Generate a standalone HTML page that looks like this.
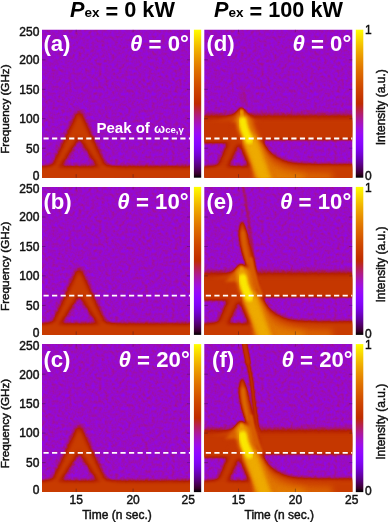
<!DOCTYPE html>
<html><head><meta charset="utf-8"><title>Spectrogram figure</title>
<style>
html,body{margin:0;padding:0;background:#fff;}
svg{display:block;font-family:"Liberation Sans",sans-serif;}
.tk{font-size:12px;fill:#111;stroke:#111;stroke-width:0.45px;}
.al{font-size:12px;fill:#111;stroke:#111;stroke-width:0.45px;}
.xl{font-size:12px;fill:#111;stroke:#111;stroke-width:0.45px;}
.pl{font-size:22.2px;font-weight:bold;fill:#fff;}
.pk{font-size:15px;font-weight:bold;fill:#fff;}
.tt{font-size:21.7px;font-weight:bold;fill:#000;}
</style></head><body>
<svg width="388" height="522" viewBox="0 0 388 522">

<defs>
<filter id="pal" x="0" y="0" width="148.0" height="148.0" color-interpolation-filters="sRGB" filterUnits="userSpaceOnUse">
  <feComponentTransfer>
    <feFuncR type="table" tableValues="0.0000 0.1250 0.1768 0.2165 0.2500 0.2795 0.3062 0.3307 0.3536 0.3750 0.3953 0.4146 0.4330 0.4507 0.4677 0.4841 0.5000 0.5154 0.5303 0.5449 0.5590 0.5728 0.5863 0.5995 0.6124 0.6250 0.6374 0.6495 0.6614 0.6731 0.6847 0.6960 0.7071 0.7181 0.7289 0.7395 0.7500 0.7603 0.7706 0.7806 0.7906 0.8004 0.8101 0.8197 0.8292 0.8385 0.8478 0.8570 0.8660 0.8750 0.8839 0.8927 0.9014 0.9100 0.9186 0.9270 0.9354 0.9437 0.9520 0.9601 0.9682 0.9763 0.9843 0.9922 1.0000"/>
    <feFuncG type="table" tableValues="0.0000 0.0000 0.0000 0.0001 0.0002 0.0005 0.0008 0.0013 0.0020 0.0028 0.0038 0.0051 0.0066 0.0084 0.0105 0.0129 0.0156 0.0187 0.0222 0.0262 0.0305 0.0353 0.0406 0.0464 0.0527 0.0596 0.0670 0.0751 0.0837 0.0930 0.1030 0.1136 0.1250 0.1371 0.1499 0.1636 0.1780 0.1932 0.2093 0.2263 0.2441 0.2629 0.2826 0.3033 0.3250 0.3476 0.3713 0.3961 0.4219 0.4488 0.4768 0.5060 0.5364 0.5679 0.6007 0.6347 0.6699 0.7065 0.7443 0.7835 0.8240 0.8659 0.9091 0.9539 1.0000"/>
    <feFuncB type="table" tableValues="0.0000 0.0980 0.1951 0.2903 0.3827 0.4714 0.5556 0.6344 0.7071 0.7730 0.8315 0.8819 0.9239 0.9569 0.9808 0.9952 1.0000 0.9952 0.9808 0.9569 0.9239 0.8819 0.8315 0.7730 0.7071 0.6344 0.5556 0.4714 0.3827 0.2903 0.1951 0.0980 0.0000 0.0000 0.0000 0.0000 0.0000 0.0000 0.0000 0.0000 0.0000 0.0000 0.0000 0.0000 0.0000 0.0000 0.0000 0.0000 0.0000 0.0000 0.0000 0.0000 0.0000 0.0000 0.0000 0.0000 0.0000 0.0000 0.0000 0.0000 0.0000 0.0000 0.0000 0.0000 0.0000"/>
  </feComponentTransfer>
</filter>
<filter id="nz" x="0" y="0" width="148.0" height="148.0" filterUnits="userSpaceOnUse" color-interpolation-filters="sRGB">
  <feTurbulence type="fractalNoise" baseFrequency="0.3" numOctaves="2" seed="7" result="n"/>
  <feColorMatrix in="n" type="matrix" values="0.09 0.09 0 0 0.268  0.09 0.09 0 0 0.268  0.09 0.09 0 0 0.268  0 0 0 0 1"/>
</filter>
<filter id="b1" x="-50%" y="-50%" width="200%" height="200%" color-interpolation-filters="sRGB"><feGaussianBlur stdDeviation="1"/></filter>
<filter id="b15" x="-50%" y="-50%" width="200%" height="200%" color-interpolation-filters="sRGB"><feGaussianBlur stdDeviation="1.5"/></filter>
<filter id="b2" x="-50%" y="-50%" width="200%" height="200%" color-interpolation-filters="sRGB"><feGaussianBlur stdDeviation="2"/></filter>
<filter id="b25" x="-50%" y="-50%" width="200%" height="200%" color-interpolation-filters="sRGB"><feGaussianBlur stdDeviation="2.5"/></filter>
<filter id="b3" x="-50%" y="-50%" width="200%" height="200%" color-interpolation-filters="sRGB"><feGaussianBlur stdDeviation="3"/></filter>
<filter id="b5" x="-50%" y="-50%" width="200%" height="200%" color-interpolation-filters="sRGB"><feGaussianBlur stdDeviation="5"/></filter>
<clipPath id="pc"><rect x="0" y="0" width="148.0" height="148.0"/></clipPath>
<linearGradient id="cb" x1="0" y1="0" x2="0" y2="1">
<stop offset="0.000" stop-color="rgb(255,255,0)"/><stop offset="0.025" stop-color="rgb(252,239,0)"/><stop offset="0.050" stop-color="rgb(250,224,0)"/><stop offset="0.075" stop-color="rgb(247,209,0)"/><stop offset="0.100" stop-color="rgb(244,195,0)"/><stop offset="0.125" stop-color="rgb(241,181,0)"/><stop offset="0.150" stop-color="rgb(238,168,0)"/><stop offset="0.175" stop-color="rgb(235,156,0)"/><stop offset="0.200" stop-color="rgb(232,144,0)"/><stop offset="0.225" stop-color="rgb(229,133,0)"/><stop offset="0.250" stop-color="rgb(226,122,0)"/><stop offset="0.275" stop-color="rgb(222,112,0)"/><stop offset="0.300" stop-color="rgb(219,103,0)"/><stop offset="0.325" stop-color="rgb(216,94,0)"/><stop offset="0.350" stop-color="rgb(212,85,0)"/><stop offset="0.375" stop-color="rgb(209,77,0)"/><stop offset="0.400" stop-color="rgb(205,69,0)"/><stop offset="0.425" stop-color="rgb(202,62,0)"/><stop offset="0.450" stop-color="rgb(198,56,0)"/><stop offset="0.475" stop-color="rgb(194,49,0)"/><stop offset="0.500" stop-color="rgb(190,44,0)"/><stop offset="0.525" stop-color="rgb(186,38,40)"/><stop offset="0.550" stop-color="rgb(182,33,79)"/><stop offset="0.575" stop-color="rgb(177,29,116)"/><stop offset="0.600" stop-color="rgb(173,25,150)"/><stop offset="0.625" stop-color="rgb(168,21,180)"/><stop offset="0.650" stop-color="rgb(163,18,206)"/><stop offset="0.675" stop-color="rgb(158,15,227)"/><stop offset="0.700" stop-color="rgb(153,12,243)"/><stop offset="0.725" stop-color="rgb(147,9,252)"/><stop offset="0.750" stop-color="rgb(141,7,255)"/><stop offset="0.775" stop-color="rgb(135,6,252)"/><stop offset="0.800" stop-color="rgb(129,4,243)"/><stop offset="0.825" stop-color="rgb(122,3,227)"/><stop offset="0.850" stop-color="rgb(114,2,206)"/><stop offset="0.875" stop-color="rgb(105,1,180)"/><stop offset="0.900" stop-color="rgb(96,1,150)"/><stop offset="0.925" stop-color="rgb(85,0,116)"/><stop offset="0.950" stop-color="rgb(71,0,79)"/><stop offset="0.975" stop-color="rgb(53,0,40)"/><stop offset="1.000" stop-color="rgb(0,0,0)"/></linearGradient>
</defs>
<rect width="388" height="522" fill="#fff"/>
<g transform="translate(42.0,29.7)">
<g id="LP">
<g filter="url(#pal)"><g clip-path="url(#pc)">
<rect x="0" y="0" width="148.0" height="148.0" fill="rgb(91,91,91)" filter="url(#nz)"/>
<path d="M35.4 82.3 L38.6 82.3 L62.4 134 Q65.5 139.6 75 140.2 L75 150 L-1 150 L-1 140.2 Q8.5 139.6 11.6 134 Z M37.1 107.8 L15.4 142 L58.8 142 Z" fill-rule="evenodd" fill="rgb(159,159,159)" filter="url(#b25)"/>
<rect x="-10" y="136.8" width="168.0" height="22" fill="rgb(157,157,157)" filter="url(#b2)"/>
</g></g>
</g>
</g>
<g transform="translate(204.3,29.7)"><g filter="url(#pal)"><g clip-path="url(#pc)"><rect x="0" y="0" width="148.0" height="148.0" fill="rgb(91,91,91)" filter="url(#nz)"/><rect x="-10" y="86" width="168.0" height="20" fill="rgb(153,153,153)" filter="url(#b3)"/><path d="M-10 91 L160 91 L160 110 L56 110 L40 113.3 L-10 113.3 Z" fill="rgb(153,153,153)" filter="url(#b15)"/><path d="M4 92 C18 90 30 88 36.8 78 C40 84 46 90 58 92 Z" fill="rgb(163,163,163)" filter="url(#b15)"/><path d="M35.6 83.3 L38.4 83.3 L61.4 134 Q64.5 139.6 74 140.2 L74 146 L0 146 L0 140.2 Q11.5 139.6 15 133 Z M34.6 113.5 L22.0 141 L46.6 141 Z" fill-rule="evenodd" fill="rgb(154,154,154)" filter="url(#b2)"/><rect x="-10" y="136.8" width="168.0" height="22" fill="rgb(157,157,157)" filter="url(#b2)"/><path d="M55 107 C59 118.5 66 126.5 82 132 C90 134.3 100 135.2 160 135.2 L160 160 L50 160 Z" fill="rgb(158,158,158)" filter="url(#b2)"/><path d="M54 110 C59 123 69 132 84 137.5 C95 141 108 142 128 142 L128 160 L50 160 Z" fill="rgb(184,184,184)" filter="url(#b3)"/><path d="M52 112 C57 126 66 136 78 141 C85 143 92 144 100 144 L100 160 L50 160 Z" fill="rgb(199,199,199)" filter="url(#b3)"/><path d="M36.8 55 L41.6 77" fill="none" stroke="rgb(112,112,112)" stroke-width="1.2" filter="url(#b1)"/><path d="M39.2 60 L43.4 79" fill="none" stroke="rgb(112,112,112)" stroke-width="1.2" filter="url(#b1)"/><path d="M35.4 63 L38.6 77" fill="none" stroke="rgb(112,112,112)" stroke-width="1.2" filter="url(#b1)"/><path d="M26 93 C31 89 33.5 80 37.4 78.6 C41.5 80 44 89 49 93 Z" fill="rgb(178,178,178)" filter="url(#b15)"/><path d="M38.9 95 C38.2 93 40.3 101.5 44.6 109 C47.5 115 50 122 52 127 C54 132.5 56.5 139.5 60.5 150" transform="translate(2.2,0)" fill="none" stroke="rgb(194,194,194)" stroke-width="16.5" stroke-linecap="round" filter="url(#b2)"/><path d="M46 112 C48.5 118 50.5 123 52 127 C54 132.5 57 140.5 61.5 152" fill="none" stroke="rgb(217,217,217)" stroke-width="14" stroke-linecap="round" filter="url(#b2)"/><path d="M37.9 90 C38.2 93 40.3 101.5 44.6 109 C47.5 115 50 122 52 127 C54 132.5 56.5 139.5 60.5 150" fill="none" stroke="rgb(223,223,223)" stroke-width="9.5" stroke-linecap="round" filter="url(#b2)"/><path d="M37.2 81.5 L38.5 95" fill="none" stroke="rgb(217,217,217)" stroke-width="3.5" stroke-linecap="round" filter="url(#b1)"/><path d="M38.4 91 C39 97 41 103 45 110.5" fill="none" stroke="rgb(247,247,247)" stroke-width="7.5" stroke-linecap="round" filter="url(#b15)"/></g></g></g>
<rect x="193.9" y="29.7" width="7.3" height="148.0" fill="url(#cb)"/>
<rect x="355.8" y="29.7" width="7.5" height="148.0" fill="url(#cb)"/>
<line x1="43.5" x2="190.0" y1="138.5" y2="138.5" stroke="#fff" stroke-width="1.8" stroke-dasharray="5.2 3.35"/>
<line x1="205.8" x2="352.3" y1="138.5" y2="138.5" stroke="#fff" stroke-width="1.8" stroke-dasharray="5.2 3.35"/>
<line x1="42.0" x2="45.5" y1="148.2" y2="148.2" stroke="#201030" stroke-opacity="0.6" stroke-width="0.6"/>
<line x1="190.0" x2="187.0" y1="148.2" y2="148.2" stroke="#201030" stroke-opacity="0.5" stroke-width="0.6"/>
<line x1="42.0" x2="45.5" y1="118.7" y2="118.7" stroke="#201030" stroke-opacity="0.6" stroke-width="0.6"/>
<line x1="190.0" x2="187.0" y1="118.7" y2="118.7" stroke="#201030" stroke-opacity="0.5" stroke-width="0.6"/>
<line x1="42.0" x2="45.5" y1="89.3" y2="89.3" stroke="#201030" stroke-opacity="0.6" stroke-width="0.6"/>
<line x1="190.0" x2="187.0" y1="89.3" y2="89.3" stroke="#201030" stroke-opacity="0.5" stroke-width="0.6"/>
<line x1="42.0" x2="45.5" y1="59.8" y2="59.8" stroke="#201030" stroke-opacity="0.6" stroke-width="0.6"/>
<line x1="190.0" x2="187.0" y1="59.8" y2="59.8" stroke="#201030" stroke-opacity="0.5" stroke-width="0.6"/>
<line x1="76.2" x2="76.2" y1="177.7" y2="174.2" stroke="#201030" stroke-opacity="0.6" stroke-width="0.6"/>
<line x1="76.2" x2="76.2" y1="29.7" y2="32.2" stroke="#201030" stroke-opacity="0.4" stroke-width="0.6"/>
<line x1="133.1" x2="133.1" y1="177.7" y2="174.2" stroke="#201030" stroke-opacity="0.6" stroke-width="0.6"/>
<line x1="133.1" x2="133.1" y1="29.7" y2="32.2" stroke="#201030" stroke-opacity="0.4" stroke-width="0.6"/>
<line x1="204.3" x2="207.8" y1="148.2" y2="148.2" stroke="#201030" stroke-opacity="0.6" stroke-width="0.6"/>
<line x1="352.3" x2="349.3" y1="148.2" y2="148.2" stroke="#201030" stroke-opacity="0.5" stroke-width="0.6"/>
<line x1="204.3" x2="207.8" y1="118.7" y2="118.7" stroke="#201030" stroke-opacity="0.6" stroke-width="0.6"/>
<line x1="352.3" x2="349.3" y1="118.7" y2="118.7" stroke="#201030" stroke-opacity="0.5" stroke-width="0.6"/>
<line x1="204.3" x2="207.8" y1="89.3" y2="89.3" stroke="#201030" stroke-opacity="0.6" stroke-width="0.6"/>
<line x1="352.3" x2="349.3" y1="89.3" y2="89.3" stroke="#201030" stroke-opacity="0.5" stroke-width="0.6"/>
<line x1="204.3" x2="207.8" y1="59.8" y2="59.8" stroke="#201030" stroke-opacity="0.6" stroke-width="0.6"/>
<line x1="352.3" x2="349.3" y1="59.8" y2="59.8" stroke="#201030" stroke-opacity="0.5" stroke-width="0.6"/>
<line x1="238.5" x2="238.5" y1="177.7" y2="174.2" stroke="#201030" stroke-opacity="0.6" stroke-width="0.6"/>
<line x1="238.5" x2="238.5" y1="29.7" y2="32.2" stroke="#201030" stroke-opacity="0.4" stroke-width="0.6"/>
<line x1="295.4" x2="295.4" y1="177.7" y2="174.2" stroke="#201030" stroke-opacity="0.6" stroke-width="0.6"/>
<line x1="295.4" x2="295.4" y1="29.7" y2="32.2" stroke="#201030" stroke-opacity="0.4" stroke-width="0.6"/>
<text x="39.4" y="179.6" text-anchor="end" class="tk">0</text>
<text x="39.4" y="152.5" text-anchor="end" class="tk">50</text>
<text x="39.4" y="123.0" text-anchor="end" class="tk">100</text>
<text x="39.4" y="93.6" text-anchor="end" class="tk">150</text>
<text x="39.4" y="64.1" text-anchor="end" class="tk">200</text>
<text x="39.4" y="35.7" text-anchor="end" class="tk">250</text>
<text transform="translate(8.7,109.1) rotate(-90)" text-anchor="middle" class="al" style="font-size:11.65px">Frequency (GHz)</text>
<text x="365" y="34.0" class="tk">1</text>
<text x="365" y="179.6" class="tk">0</text>
<text transform="translate(384.9,107.3) rotate(-90)" text-anchor="middle" class="al">Intensity (a.u.)</text>
<text x="43.4" y="51.0" class="pl">(a)</text>
<text x="206.4" y="51.0" class="pl">(d)</text>
<text x="188.9" y="51.0" text-anchor="end" class="pl"><tspan font-style="italic">θ</tspan> <tspan dy="1">=</tspan><tspan dy="-1"> 0°</tspan></text>
<text x="351.3" y="51.0" text-anchor="end" class="pl"><tspan font-style="italic">θ</tspan> <tspan dy="1">=</tspan><tspan dy="-1"> 0°</tspan></text>
<g transform="translate(42.0,186.9)"><use href="#LP"/></g>
<g transform="translate(204.3,186.9)"><g filter="url(#pal)"><g clip-path="url(#pc)"><rect x="0" y="0" width="148.0" height="148.0" fill="rgb(91,91,91)" filter="url(#nz)"/><rect x="-10" y="86" width="168.0" height="20" fill="rgb(153,153,153)" filter="url(#b3)"/><path d="M-10 91 L160 91 L160 110 L56 110 L40 113.3 L-10 113.3 Z" fill="rgb(153,153,153)" filter="url(#b15)"/><path d="M4 92 C18 90 30 88 36.8 78 C40 84 46 90 58 92 Z" fill="rgb(163,163,163)" filter="url(#b15)"/><path d="M35.6 83.3 L38.4 83.3 L61.4 134 Q64.5 139.6 74 140.2 L74 146 L0 146 L0 140.2 Q11.5 139.6 15 133 Z M34.6 113.5 L22.0 141 L46.6 141 Z" fill-rule="evenodd" fill="rgb(154,154,154)" filter="url(#b2)"/><rect x="-10" y="136.8" width="168.0" height="22" fill="rgb(157,157,157)" filter="url(#b2)"/><path d="M55 107 C59 118.5 66 126.5 82 132 C90 134.3 100 135.2 160 135.2 L160 160 L50 160 Z" fill="rgb(158,158,158)" filter="url(#b2)"/><path d="M54 110 C59 123 69 132 84 137.5 C95 141 108 142 128 142 L128 160 L50 160 Z" fill="rgb(184,184,184)" filter="url(#b3)"/><path d="M52 112 C57 126 66 136 78 141 C85 143 92 144 100 144 L100 160 L50 160 Z" fill="rgb(199,199,199)" filter="url(#b3)"/><path d="M38.8 -2 L44.2 32 L48.1 62 L50.8 80 L54 100" fill="none" stroke="rgb(135,135,135)" stroke-width="1.4" filter="url(#b1)"/><path d="M37.8 34 C35.8 38 34.6 43 34.8 48 C34.9 51 35.2 53 35.6 55 C36.3 58.5 37 62 38 65 L41.2 74 L43.7 84.3 L46.6 92 L50 101 L53.6 101 L52 92 L50.5 84.3 L49 74 L46.5 63 L44 52 C43 48 42 44 41 41 C40 38 39 36 37.8 34 Z" fill="rgb(168,168,168)" filter="url(#b15)"/><path d="M38.8 45 C38.8 54 40.5 63 44 76" fill="none" stroke="rgb(186,186,186)" stroke-width="3.5" stroke-linecap="round" filter="url(#b15)"/><path d="M45.2 72 C47 82 49 91 51.6 100" fill="none" stroke="rgb(178,178,178)" stroke-width="3" stroke-linecap="round" filter="url(#b15)"/><path d="M20 95 C27 90 31 82 36.2 77.5 C40 78 45 86 50 95 Z" fill="rgb(184,184,184)" filter="url(#b15)"/><path d="M38.6 88 C38.2 93 40.3 101.5 44.6 109 C47.5 115 50 122 52 127 C54 132.5 56.5 139.5 60.5 150" transform="translate(2.2,0)" fill="none" stroke="rgb(194,194,194)" stroke-width="16.5" stroke-linecap="round" filter="url(#b2)"/><path d="M46.6 72 C48 80 50 89 52.6 97 C53.6 100 55 104 56.5 107" fill="none" stroke="rgb(182,182,182)" stroke-width="3.4" stroke-linecap="round" filter="url(#b1)"/><path d="M46 112 C48.5 118 50.5 123 52 127 C54 132.5 57 140.5 61.5 152" fill="none" stroke="rgb(217,217,217)" stroke-width="14" stroke-linecap="round" filter="url(#b2)"/><path d="M37.6 86 C38.2 93 40.3 101.5 44.6 109 C47.5 115 50 122 52 127 C54 132.5 56.5 139.5 60.5 150" fill="none" stroke="rgb(223,223,223)" stroke-width="9.5" stroke-linecap="round" filter="url(#b2)"/><path d="M37.2 81.5 L38.5 95" fill="none" stroke="rgb(217,217,217)" stroke-width="3.5" stroke-linecap="round" filter="url(#b1)"/><path d="M38.4 91 C39 97 41 103 45 110.5" fill="none" stroke="rgb(247,247,247)" stroke-width="8.3" stroke-linecap="round" filter="url(#b15)"/></g></g></g>
<rect x="193.9" y="186.9" width="7.3" height="148.0" fill="url(#cb)"/>
<rect x="355.8" y="186.9" width="7.5" height="148.0" fill="url(#cb)"/>
<line x1="43.5" x2="190.0" y1="295.7" y2="295.7" stroke="#fff" stroke-width="1.8" stroke-dasharray="5.2 3.35"/>
<line x1="205.8" x2="352.3" y1="295.7" y2="295.7" stroke="#fff" stroke-width="1.8" stroke-dasharray="5.2 3.35"/>
<line x1="42.0" x2="45.5" y1="305.4" y2="305.4" stroke="#201030" stroke-opacity="0.6" stroke-width="0.6"/>
<line x1="190.0" x2="187.0" y1="305.4" y2="305.4" stroke="#201030" stroke-opacity="0.5" stroke-width="0.6"/>
<line x1="42.0" x2="45.5" y1="275.9" y2="275.9" stroke="#201030" stroke-opacity="0.6" stroke-width="0.6"/>
<line x1="190.0" x2="187.0" y1="275.9" y2="275.9" stroke="#201030" stroke-opacity="0.5" stroke-width="0.6"/>
<line x1="42.0" x2="45.5" y1="246.5" y2="246.5" stroke="#201030" stroke-opacity="0.6" stroke-width="0.6"/>
<line x1="190.0" x2="187.0" y1="246.5" y2="246.5" stroke="#201030" stroke-opacity="0.5" stroke-width="0.6"/>
<line x1="42.0" x2="45.5" y1="217.0" y2="217.0" stroke="#201030" stroke-opacity="0.6" stroke-width="0.6"/>
<line x1="190.0" x2="187.0" y1="217.0" y2="217.0" stroke="#201030" stroke-opacity="0.5" stroke-width="0.6"/>
<line x1="76.2" x2="76.2" y1="334.9" y2="331.4" stroke="#201030" stroke-opacity="0.6" stroke-width="0.6"/>
<line x1="76.2" x2="76.2" y1="186.9" y2="189.4" stroke="#201030" stroke-opacity="0.4" stroke-width="0.6"/>
<line x1="133.1" x2="133.1" y1="334.9" y2="331.4" stroke="#201030" stroke-opacity="0.6" stroke-width="0.6"/>
<line x1="133.1" x2="133.1" y1="186.9" y2="189.4" stroke="#201030" stroke-opacity="0.4" stroke-width="0.6"/>
<line x1="204.3" x2="207.8" y1="305.4" y2="305.4" stroke="#201030" stroke-opacity="0.6" stroke-width="0.6"/>
<line x1="352.3" x2="349.3" y1="305.4" y2="305.4" stroke="#201030" stroke-opacity="0.5" stroke-width="0.6"/>
<line x1="204.3" x2="207.8" y1="275.9" y2="275.9" stroke="#201030" stroke-opacity="0.6" stroke-width="0.6"/>
<line x1="352.3" x2="349.3" y1="275.9" y2="275.9" stroke="#201030" stroke-opacity="0.5" stroke-width="0.6"/>
<line x1="204.3" x2="207.8" y1="246.5" y2="246.5" stroke="#201030" stroke-opacity="0.6" stroke-width="0.6"/>
<line x1="352.3" x2="349.3" y1="246.5" y2="246.5" stroke="#201030" stroke-opacity="0.5" stroke-width="0.6"/>
<line x1="204.3" x2="207.8" y1="217.0" y2="217.0" stroke="#201030" stroke-opacity="0.6" stroke-width="0.6"/>
<line x1="352.3" x2="349.3" y1="217.0" y2="217.0" stroke="#201030" stroke-opacity="0.5" stroke-width="0.6"/>
<line x1="238.5" x2="238.5" y1="334.9" y2="331.4" stroke="#201030" stroke-opacity="0.6" stroke-width="0.6"/>
<line x1="238.5" x2="238.5" y1="186.9" y2="189.4" stroke="#201030" stroke-opacity="0.4" stroke-width="0.6"/>
<line x1="295.4" x2="295.4" y1="334.9" y2="331.4" stroke="#201030" stroke-opacity="0.6" stroke-width="0.6"/>
<line x1="295.4" x2="295.4" y1="186.9" y2="189.4" stroke="#201030" stroke-opacity="0.4" stroke-width="0.6"/>
<text x="39.4" y="336.8" text-anchor="end" class="tk">0</text>
<text x="39.4" y="309.7" text-anchor="end" class="tk">50</text>
<text x="39.4" y="280.2" text-anchor="end" class="tk">100</text>
<text x="39.4" y="250.8" text-anchor="end" class="tk">150</text>
<text x="39.4" y="221.3" text-anchor="end" class="tk">200</text>
<text x="39.4" y="192.9" text-anchor="end" class="tk">250</text>
<text transform="translate(8.7,266.3) rotate(-90)" text-anchor="middle" class="al" style="font-size:11.65px">Frequency (GHz)</text>
<text x="365" y="192.2" class="tk">1</text>
<text x="365" y="338.0" class="tk">0</text>
<text transform="translate(384.9,264.5) rotate(-90)" text-anchor="middle" class="al">Intensity (a.u.)</text>
<text x="43.4" y="209.3" class="pl">(b)</text>
<text x="206.4" y="209.3" class="pl">(e)</text>
<text x="188.6" y="209.3" text-anchor="end" class="pl"><tspan font-style="italic">θ</tspan> <tspan dy="1">=</tspan><tspan dy="-1"> 10°</tspan></text>
<text x="351.3" y="209.3" text-anchor="end" class="pl"><tspan font-style="italic">θ</tspan> <tspan dy="1">=</tspan><tspan dy="-1"> 10°</tspan></text>
<g transform="translate(42.0,344.1)"><use href="#LP"/></g>
<g transform="translate(204.3,344.1)"><g filter="url(#pal)"><g clip-path="url(#pc)"><rect x="0" y="0" width="148.0" height="148.0" fill="rgb(91,91,91)" filter="url(#nz)"/><rect x="-10" y="86" width="168.0" height="20" fill="rgb(153,153,153)" filter="url(#b3)"/><path d="M-10 91 L160 91 L160 110 L56 110 L40 113.3 L-10 113.3 Z" fill="rgb(153,153,153)" filter="url(#b15)"/><path d="M4 92 C18 90 30 88 36.8 78 C40 84 46 90 58 92 Z" fill="rgb(163,163,163)" filter="url(#b15)"/><path d="M35.6 83.3 L38.4 83.3 L61.4 134 Q64.5 139.6 74 140.2 L74 146 L0 146 L0 140.2 Q11.5 139.6 15 133 Z M34.6 113.5 L22.0 141 L46.6 141 Z" fill-rule="evenodd" fill="rgb(154,154,154)" filter="url(#b2)"/><rect x="-10" y="136.8" width="168.0" height="22" fill="rgb(157,157,157)" filter="url(#b2)"/><path d="M55 107 C59 118.5 66 126.5 82 132 C90 134.3 100 135.2 160 135.2 L160 160 L50 160 Z" fill="rgb(158,158,158)" filter="url(#b2)"/><path d="M54 110 C59 123 69 132 84 137.5 C95 141 108 142 128 142 L128 160 L50 160 Z" fill="rgb(184,184,184)" filter="url(#b3)"/><path d="M52 112 C57 126 66 136 78 141 C85 143 92 144 100 144 L100 160 L50 160 Z" fill="rgb(199,199,199)" filter="url(#b3)"/><path d="M40.0 -2 L47.4 38 L49.9 60 L52.4 78 L55.5 100" fill="none" stroke="rgb(148,148,148)" stroke-width="3.4" filter="url(#b1)"/><path d="M39.9 -2 L44 20" fill="none" stroke="rgb(149,149,149)" stroke-width="4.2" filter="url(#b1)"/><path d="M37.8 34 C35.8 38 34.6 43 34.8 48 C34.9 51 35.2 53 35.6 55 C36.3 58.5 37 62 38 65 L41.2 74 L43.7 84.3 L46.6 92 L50 101 L53.6 101 L52 92 L50.5 84.3 L49 74 L46.5 63 L44 52 C43 48 42 44 41 41 C40 38 39 36 37.8 34 Z" fill="rgb(168,168,168)" filter="url(#b15)"/><path d="M38.8 45 C38.8 54 40.5 63 44 76" fill="none" stroke="rgb(194,194,194)" stroke-width="3.5" stroke-linecap="round" filter="url(#b15)"/><path d="M45.2 72 C47 82 49 91 51.6 100" fill="none" stroke="rgb(178,178,178)" stroke-width="3" stroke-linecap="round" filter="url(#b15)"/><path d="M20 95 C27 90 31 82 36.2 77.5 C40 78 45 86 50 95 Z" fill="rgb(184,184,184)" filter="url(#b15)"/><path d="M38.6 88 C38.2 93 40.3 101.5 44.6 109 C47.5 115 50 122 52 127 C54 132.5 56.5 139.5 60.5 150" transform="translate(2.2,0)" fill="none" stroke="rgb(194,194,194)" stroke-width="16.5" stroke-linecap="round" filter="url(#b2)"/><path d="M46.6 72 C48 80 50 89 52.6 97 C53.6 100 55 104 56.5 107" fill="none" stroke="rgb(182,182,182)" stroke-width="3.4" stroke-linecap="round" filter="url(#b1)"/><path d="M46 112 C48.5 118 50.5 123 52 127 C54 132.5 57 140.5 61.5 152" fill="none" stroke="rgb(217,217,217)" stroke-width="14" stroke-linecap="round" filter="url(#b2)"/><path d="M37.6 86 C38.2 93 40.3 101.5 44.6 109 C47.5 115 50 122 52 127 C54 132.5 56.5 139.5 60.5 150" fill="none" stroke="rgb(223,223,223)" stroke-width="9.5" stroke-linecap="round" filter="url(#b2)"/><path d="M37.2 81.5 L38.5 95" fill="none" stroke="rgb(217,217,217)" stroke-width="3.5" stroke-linecap="round" filter="url(#b1)"/><path d="M38.4 91 C39 97 41 103 45 110.5" fill="none" stroke="rgb(247,247,247)" stroke-width="8.3" stroke-linecap="round" filter="url(#b15)"/></g></g></g>
<rect x="193.9" y="344.1" width="7.3" height="148.0" fill="url(#cb)"/>
<rect x="355.8" y="344.1" width="7.5" height="148.0" fill="url(#cb)"/>
<line x1="43.5" x2="190.0" y1="452.90000000000003" y2="452.90000000000003" stroke="#fff" stroke-width="1.8" stroke-dasharray="5.2 3.35"/>
<line x1="205.8" x2="352.3" y1="452.90000000000003" y2="452.90000000000003" stroke="#fff" stroke-width="1.8" stroke-dasharray="5.2 3.35"/>
<line x1="42.0" x2="45.5" y1="462.6" y2="462.6" stroke="#201030" stroke-opacity="0.6" stroke-width="0.6"/>
<line x1="190.0" x2="187.0" y1="462.6" y2="462.6" stroke="#201030" stroke-opacity="0.5" stroke-width="0.6"/>
<line x1="42.0" x2="45.5" y1="433.1" y2="433.1" stroke="#201030" stroke-opacity="0.6" stroke-width="0.6"/>
<line x1="190.0" x2="187.0" y1="433.1" y2="433.1" stroke="#201030" stroke-opacity="0.5" stroke-width="0.6"/>
<line x1="42.0" x2="45.5" y1="403.7" y2="403.7" stroke="#201030" stroke-opacity="0.6" stroke-width="0.6"/>
<line x1="190.0" x2="187.0" y1="403.7" y2="403.7" stroke="#201030" stroke-opacity="0.5" stroke-width="0.6"/>
<line x1="42.0" x2="45.5" y1="374.2" y2="374.2" stroke="#201030" stroke-opacity="0.6" stroke-width="0.6"/>
<line x1="190.0" x2="187.0" y1="374.2" y2="374.2" stroke="#201030" stroke-opacity="0.5" stroke-width="0.6"/>
<line x1="76.2" x2="76.2" y1="492.1" y2="488.6" stroke="#201030" stroke-opacity="0.6" stroke-width="0.6"/>
<line x1="76.2" x2="76.2" y1="344.1" y2="346.6" stroke="#201030" stroke-opacity="0.4" stroke-width="0.6"/>
<line x1="133.1" x2="133.1" y1="492.1" y2="488.6" stroke="#201030" stroke-opacity="0.6" stroke-width="0.6"/>
<line x1="133.1" x2="133.1" y1="344.1" y2="346.6" stroke="#201030" stroke-opacity="0.4" stroke-width="0.6"/>
<line x1="204.3" x2="207.8" y1="462.6" y2="462.6" stroke="#201030" stroke-opacity="0.6" stroke-width="0.6"/>
<line x1="352.3" x2="349.3" y1="462.6" y2="462.6" stroke="#201030" stroke-opacity="0.5" stroke-width="0.6"/>
<line x1="204.3" x2="207.8" y1="433.1" y2="433.1" stroke="#201030" stroke-opacity="0.6" stroke-width="0.6"/>
<line x1="352.3" x2="349.3" y1="433.1" y2="433.1" stroke="#201030" stroke-opacity="0.5" stroke-width="0.6"/>
<line x1="204.3" x2="207.8" y1="403.7" y2="403.7" stroke="#201030" stroke-opacity="0.6" stroke-width="0.6"/>
<line x1="352.3" x2="349.3" y1="403.7" y2="403.7" stroke="#201030" stroke-opacity="0.5" stroke-width="0.6"/>
<line x1="204.3" x2="207.8" y1="374.2" y2="374.2" stroke="#201030" stroke-opacity="0.6" stroke-width="0.6"/>
<line x1="352.3" x2="349.3" y1="374.2" y2="374.2" stroke="#201030" stroke-opacity="0.5" stroke-width="0.6"/>
<line x1="238.5" x2="238.5" y1="492.1" y2="488.6" stroke="#201030" stroke-opacity="0.6" stroke-width="0.6"/>
<line x1="238.5" x2="238.5" y1="344.1" y2="346.6" stroke="#201030" stroke-opacity="0.4" stroke-width="0.6"/>
<line x1="295.4" x2="295.4" y1="492.1" y2="488.6" stroke="#201030" stroke-opacity="0.6" stroke-width="0.6"/>
<line x1="295.4" x2="295.4" y1="344.1" y2="346.6" stroke="#201030" stroke-opacity="0.4" stroke-width="0.6"/>
<text x="39.4" y="494.0" text-anchor="end" class="tk">0</text>
<text x="39.4" y="466.9" text-anchor="end" class="tk">50</text>
<text x="39.4" y="437.4" text-anchor="end" class="tk">100</text>
<text x="39.4" y="408.0" text-anchor="end" class="tk">150</text>
<text x="39.4" y="378.5" text-anchor="end" class="tk">200</text>
<text x="39.4" y="350.1" text-anchor="end" class="tk">250</text>
<text transform="translate(8.7,423.5) rotate(-90)" text-anchor="middle" class="al" style="font-size:11.65px">Frequency (GHz)</text>
<text x="365" y="349.0" class="tk">1</text>
<text x="365" y="494.6" class="tk">0</text>
<text transform="translate(384.9,421.7) rotate(-90)" text-anchor="middle" class="al">Intensity (a.u.)</text>
<text x="43.4" y="366.7" class="pl">(c)</text>
<text x="212.0" y="366.7" class="pl">(f)</text>
<text x="189.8" y="366.7" text-anchor="end" class="pl"><tspan font-style="italic">θ</tspan> <tspan dy="1">=</tspan><tspan dy="-1"> 20°</tspan></text>
<text x="352.7" y="366.7" text-anchor="end" class="pl"><tspan font-style="italic">θ</tspan> <tspan dy="1">=</tspan><tspan dy="-1"> 20°</tspan></text>
<text x="96.5" y="132.9" class="pk">Peak of <tspan font-size="13.2">ω</tspan><tspan font-size="9.6">ce,γ</tspan></text>
<text x="76.2" y="504.1" text-anchor="middle" class="tk">15</text>
<text x="133.1" y="504.1" text-anchor="middle" class="tk">20</text>
<text x="188.2" y="504.1" text-anchor="middle" class="tk">25</text>
<text x="117.0" y="519.1" text-anchor="middle" class="xl">Time (n sec.)</text>
<text x="238.5" y="504.1" text-anchor="middle" class="tk">15</text>
<text x="295.4" y="504.1" text-anchor="middle" class="tk">20</text>
<text x="351.7" y="504.1" text-anchor="middle" class="tk">25</text>
<text x="279.3" y="519.1" text-anchor="middle" class="xl">Time (n sec.)</text>
<text x="70" y="16.7" class="tt"><tspan font-style="italic">P</tspan><tspan font-size="13.5">ex</tspan> <tspan dy="2.4">=</tspan><tspan dy="-2.4"> 0 kW</tspan></text>
<text x="214" y="16.7" class="tt"><tspan font-style="italic">P</tspan><tspan font-size="13.5">ex</tspan> <tspan dy="2.4">=</tspan><tspan dy="-2.4"> 100 kW</tspan></text>

</svg>
</body></html>
